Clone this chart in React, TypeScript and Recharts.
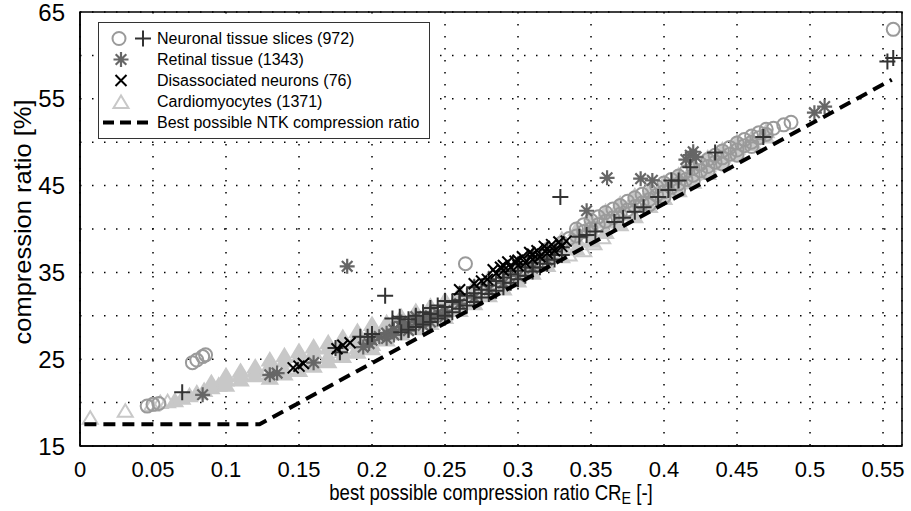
import { ScatterChart, Scatter, XAxis, YAxis, CartesianGrid, Legend, ReferenceArea, Label } from "recharts";

const FONT = "'Liberation Sans', Arial, sans-serif";

// axis ticks
const xTicks = [0, 0.05, 0.1, 0.15, 0.2, 0.25, 0.3, 0.35, 0.4, 0.45, 0.5, 0.55];
const xTickLabels = ["0", "0.05", "0.1", "0.15", "0.2", "0.25", "0.3", "0.35", "0.4", "0.45", "0.5", "0.55"];
const yTicks = [15, 20, 25, 30, 35, 40, 45, 50, 55, 60, 65];
const yTickLabels = ["15", "", "25", "", "35", "", "45", "", "55", "", "65"];

// best possible NTK compression ratio (dashed)
const bestLine: [number, number][] = [
  [0.003, 17.5], [0.123, 17.5], [0.556, 57.2],
];

// cardiomyocytes (1371) - light grey triangles
const cardioSparse: [number, number][] = [
  [0.007, 18.2], [0.031, 19.0], [0.049, 19.7], [0.055, 20.0], [0.06, 20.1],
  [0.335, 37.0], [0.345, 37.5], [0.352, 38.3], [0.358, 39.0], [0.461, 49.8],
];
const cardioBand: [number, number][] = [
  [0.065, 20.2], [0.07, 20.5], [0.075, 20.8], [0.08, 21.1], [0.085, 21.4], [0.09, 21.7], [0.095, 22.0],
  [0.09, 22.3], [0.1, 22.0], [0.1, 22.6], [0.1, 23.1], [0.11, 22.6], [0.11, 23.2], [0.11, 23.6],
  [0.12, 23.1], [0.12, 23.7], [0.12, 24.1],
  [0.13, 22.8], [0.13, 23.3], [0.13, 24.3], [0.13, 24.9], [0.14, 23.3], [0.14, 23.8], [0.14, 24.8], [0.14, 25.4],
  [0.15, 23.7], [0.15, 24.3], [0.15, 25.3], [0.15, 25.9], [0.16, 24.2], [0.16, 24.8], [0.16, 25.8], [0.16, 26.4],
  [0.17, 24.7], [0.17, 25.3], [0.17, 26.3], [0.17, 26.9], [0.18, 25.3], [0.18, 25.9], [0.18, 26.9], [0.18, 27.5],
  [0.19, 25.8], [0.19, 26.3], [0.19, 27.0], [0.19, 27.7], [0.19, 28.2],
  [0.2, 26.2], [0.2, 26.7], [0.2, 27.6], [0.2, 28.5], [0.2, 29.0],
  [0.21, 27.2], [0.21, 28.2], [0.21, 29.2], [0.22, 27.9], [0.22, 28.9], [0.22, 29.9],
  [0.23, 28.5], [0.23, 29.5], [0.23, 30.5], [0.24, 29.1], [0.24, 30.1], [0.24, 31.1],
  [0.25, 29.8], [0.25, 30.8], [0.25, 31.8], [0.26, 30.6], [0.26, 31.6], [0.26, 32.6],
  [0.27, 31.4], [0.27, 32.4], [0.27, 33.4], [0.28, 32.3], [0.28, 33.3], [0.28, 34.3],
  [0.29, 33.1], [0.29, 34.1], [0.29, 35.1], [0.3, 34.0], [0.3, 35.0], [0.3, 36.0],
  [0.31, 34.9], [0.31, 35.9], [0.31, 36.9], [0.32, 35.8], [0.32, 36.8], [0.32, 37.8],
  [0.33, 36.8], [0.33, 37.8], [0.33, 38.8], [0.34, 37.7], [0.34, 38.8], [0.34, 39.9],
  [0.35, 38.6], [0.35, 39.8], [0.35, 41.0], [0.36, 39.6], [0.36, 40.8], [0.36, 42.0],
  [0.37, 40.5], [0.37, 41.7], [0.37, 42.9], [0.38, 41.4], [0.38, 42.6], [0.38, 43.8],
  [0.39, 42.6], [0.39, 43.5], [0.39, 44.4], [0.4, 43.5], [0.4, 44.4], [0.4, 45.3],
  [0.41, 44.4], [0.41, 45.3], [0.41, 46.2], [0.42, 45.4], [0.42, 46.3], [0.42, 47.2],
  [0.43, 46.4], [0.43, 47.3], [0.43, 48.2], [0.44, 47.5], [0.44, 48.3], [0.44, 49.1],
  [0.45, 48.6], [0.45, 49.3], [0.45, 50.0], [0.46, 49.7], [0.46, 50.4], [0.47, 50.6], [0.47, 51.2],
];

// neuronal tissue slices (972) - circles and plus signs
const neuronCircles: [number, number][] = [
  [0.046, 19.6], [0.05, 19.8], [0.054, 19.9],
  [0.077, 24.6], [0.08, 24.9], [0.084, 25.3], [0.086, 25.5],
  [0.264, 36.0], [0.557, 63.0],
  [0.32, 37.6], [0.33, 38.4], [0.335, 38.9], [0.34, 39.2], [0.34, 40.0], [0.345, 39.7], [0.345, 40.5],
  [0.35, 40.0], [0.35, 41.0], [0.355, 40.5], [0.355, 41.4], [0.36, 40.9], [0.36, 41.9],
  [0.365, 41.3], [0.365, 42.3], [0.37, 41.7], [0.37, 42.7], [0.375, 42.2], [0.375, 43.2],
  [0.38, 42.6], [0.38, 43.6], [0.385, 43.0], [0.385, 44.0], [0.39, 42.8], [0.39, 43.4], [0.39, 44.4],
  [0.395, 43.9], [0.395, 44.9], [0.4, 43.7], [0.4, 44.3], [0.4, 45.3], [0.405, 44.8], [0.405, 45.7],
  [0.41, 44.5], [0.41, 45.2], [0.41, 46.1], [0.415, 45.7], [0.415, 46.6],
  [0.42, 45.5], [0.42, 46.2], [0.42, 47.0], [0.425, 46.7], [0.425, 47.5],
  [0.43, 46.5], [0.43, 47.2], [0.43, 48.0], [0.435, 47.7], [0.435, 48.5],
  [0.44, 47.5], [0.44, 48.2], [0.44, 49.0], [0.445, 48.6], [0.445, 49.4],
  [0.45, 48.5], [0.45, 49.1], [0.45, 49.9], [0.455, 49.6], [0.455, 50.3],
  [0.46, 49.5], [0.46, 50.0], [0.46, 50.7], [0.465, 50.5], [0.465, 51.1],
  [0.47, 50.9], [0.47, 51.5], [0.475, 51.6], [0.482, 52.0], [0.487, 52.3],
];
const neuronPlus: [number, number][] = [
  [0.07, 21.2], [0.209, 32.3], [0.329, 43.7], [0.553, 59.3], [0.557, 59.7],
  [0.175, 26.3], [0.178, 25.8], [0.192, 27.6], [0.197, 27.6], [0.2, 27.9],
  [0.214, 29.7], [0.219, 29.9], [0.225, 29.6], [0.23, 30.0], [0.235, 30.4],
  [0.24, 30.2], [0.24, 30.9], [0.245, 31.2], [0.25, 31.0], [0.25, 31.7], [0.255, 31.6],
  [0.26, 31.8], [0.26, 32.5], [0.265, 32.3], [0.27, 32.6], [0.27, 33.3], [0.275, 33.0],
  [0.28, 33.5], [0.28, 34.2], [0.285, 34.0], [0.29, 34.4], [0.29, 35.1], [0.295, 34.8],
  [0.3, 35.2], [0.3, 35.9], [0.305, 35.6], [0.31, 36.1], [0.31, 36.8], [0.315, 36.5],
  [0.32, 37.0], [0.32, 37.6], [0.325, 37.4], [0.33, 37.9],
  [0.22, 28.1], [0.225, 28.4], [0.23, 28.7], [0.235, 29.0], [0.24, 29.3], [0.245, 29.7],
  [0.25, 30.0], [0.255, 30.4], [0.26, 30.8], [0.265, 31.2], [0.27, 31.6], [0.275, 32.1],
  [0.28, 32.5], [0.285, 32.9], [0.29, 33.3], [0.295, 33.8], [0.3, 34.2], [0.305, 34.6],
  [0.31, 35.1], [0.315, 35.6], [0.32, 36.0], [0.325, 36.5], [0.33, 37.0],
  [0.342, 39.1], [0.347, 39.3], [0.353, 39.7], [0.366, 40.8], [0.372, 41.3], [0.38, 42.0],
  [0.386, 42.5], [0.396, 43.7], [0.403, 44.5], [0.405, 45.6], [0.41, 45.6], [0.418, 47.1],
  [0.435, 48.8], [0.468, 50.6],
];

// retinal tissue (1343) - asterisks
const retinal: [number, number][] = [
  [0.084, 20.9], [0.183, 35.7], [0.347, 42.1], [0.361, 45.9], [0.503, 53.4], [0.51, 54.1],
  [0.13, 23.2], [0.135, 23.4], [0.16, 24.6], [0.194, 26.4], [0.198, 26.8],
  [0.2, 27.2], [0.205, 27.6], [0.21, 28.0], [0.21, 27.4], [0.215, 28.4], [0.215, 27.8],
  [0.22, 28.7], [0.22, 29.3], [0.225, 29.0], [0.225, 28.3], [0.23, 29.3], [0.23, 29.9],
  [0.235, 29.6], [0.235, 28.9], [0.24, 30.0], [0.24, 29.3], [0.245, 30.3], [0.25, 30.6],
  [0.25, 29.9], [0.26, 31.4], [0.27, 32.1], [0.28, 33.0], [0.29, 33.8],
  [0.3, 34.6], [0.31, 35.5], [0.32, 36.4],
  [0.384, 45.8], [0.392, 45.6], [0.415, 48.0], [0.418, 48.5], [0.42, 48.9], [0.422, 48.3],
];

// disassociated neurons (76) - crosses
const dissociated: [number, number][] = [
  [0.146, 24.0], [0.15, 24.2], [0.153, 24.5], [0.176, 26.2], [0.18, 26.6], [0.185, 26.9],
  [0.26, 33.0], [0.27, 33.7], [0.275, 34.0], [0.279, 34.2], [0.285, 34.9], [0.29, 35.2],
  [0.29, 35.8], [0.295, 35.6], [0.3, 35.8], [0.3, 36.4], [0.305, 36.1], [0.31, 36.5],
  [0.31, 37.1], [0.315, 36.8], [0.32, 37.2], [0.32, 37.7], [0.325, 37.5], [0.33, 38.0],
  [0.283, 35.3], [0.288, 35.6], [0.293, 36.2], [0.298, 36.3], [0.303, 36.8], [0.308, 37.3],
  [0.313, 37.5], [0.318, 38.0], [0.323, 38.2], [0.328, 38.5], [0.333, 38.6],
];

const toPts = (arr: [number, number][]) => arr.map(([x, y]) => ({ x, y }));

const COL_CIRCLE = "#9a9a9a";
const COL_PLUS = "#333333";
const COL_STAR = "#666666";
const COL_CROSS = "#000000";
const COL_TRI = "#c8c8c8";

const CircleMark = (p: any) => (
  <circle cx={p.cx} cy={p.cy} r={6.5} fill="none" stroke={COL_CIRCLE} strokeWidth={2} />
);
const PlusMark = (p: any) => (
  <path d={`M${p.cx - 8},${p.cy}H${p.cx + 8}M${p.cx},${p.cy - 8}V${p.cy + 8}`} stroke={COL_PLUS} strokeWidth={2} />
);
const StarMark = (p: any) => {
  const r = 7.5, d = 5.3;
  return (
    <path
      d={`M${p.cx - r},${p.cy}H${p.cx + r}M${p.cx},${p.cy - r}V${p.cy + r}M${p.cx - d},${p.cy - d}L${p.cx + d},${p.cy + d}M${p.cx - d},${p.cy + d}L${p.cx + d},${p.cy - d}`}
      stroke={COL_STAR}
      strokeWidth={2.2}
    />
  );
};
const CrossMark = (p: any) => {
  const d = 5.5;
  return (
    <path d={`M${p.cx - d},${p.cy - d}L${p.cx + d},${p.cy + d}M${p.cx - d},${p.cy + d}L${p.cx + d},${p.cy - d}`} stroke={COL_CROSS} strokeWidth={2} />
  );
};
const TriOutline = (p: any) => (
  <path d={`M${p.cx},${p.cy - 7}L${p.cx - 7.5},${p.cy + 5.5}H${p.cx + 7.5}Z`} fill="none" stroke={COL_TRI} strokeWidth={2} />
);
const TriFilled = (p: any) => (
  <path d={`M${p.cx},${p.cy - 7}L${p.cx - 7.5},${p.cy + 5.5}H${p.cx + 7.5}Z`} fill={COL_TRI} stroke={COL_TRI} strokeWidth={2} />
);

const legendRows = [
  { key: "neuro", text: "Neuronal tissue slices (972)" },
  { key: "retina", text: "Retinal tissue (1343)" },
  { key: "dissoc", text: "Disassociated neurons (76)" },
  { key: "cardio", text: "Cardiomyocytes (1371)" },
  { key: "best", text: "Best possible NTK compression ratio" },
];

function legendMarker(key: string) {
  const cy = 10.5;
  if (key === "neuro")
    return (
      <>
        <CircleMark cx={20} cy={cy} />
        <PlusMark cx={44} cy={cy} />
      </>
    );
  if (key === "retina") return <StarMark cx={22} cy={cy} />;
  if (key === "dissoc") return <CrossMark cx={22} cy={cy} />;
  if (key === "cardio") return <TriOutline cx={22} cy={cy + 1} />;
  return <line x1={4} x2={50} y1={cy} y2={cy} stroke="#000" strokeWidth={4} strokeDasharray="11 6" />;
}

const LegendBox = () => (
  <div
    style={{
      border: "1px solid #333",
      background: "#fff",
      width: 332,
      height: 117,
      boxSizing: "border-box",
      paddingTop: 5,
      fontFamily: FONT,
      fontSize: 16,
      color: "#000",
    }}
  >
    {legendRows.map((r) => (
      <div key={r.key} style={{ display: "flex", alignItems: "center", height: 21 }}>
        <svg width={58} height={21} style={{ flex: "none" }}>
          {legendMarker(r.key)}
        </svg>
        <span style={{ whiteSpace: "nowrap" }}>{r.text}</span>
      </div>
    ))}
  </div>
);

const XTitle = (props: any) => {
  const vb = props.viewBox;
  const cx = vb.x + vb.width / 2;
  const y = vb.y + 54;
  return (
    <g transform={`translate(${cx} ${y}) scale(0.845 1)`}>
      <text x={0} y={0} textAnchor="middle" fontFamily={FONT} fontSize={22} fill="#000">
        best possible compression ratio CR
        <tspan dy={4} fontSize={17}>E</tspan>
        <tspan dy={-4}> [-]</tspan>
      </text>
    </g>
  );
};

const YTitle = (props: any) => {
  const vb = props.viewBox;
  const cx = 22;
  const cy = vb.y + vb.height / 2 - 7;
  return (
    <text
      x={cx}
      y={cy}
      transform={`rotate(-90 ${cx} ${cy})`}
      textAnchor="middle"
      dominantBaseline="central"
      fontFamily={FONT}
      fontSize={24}
      textLength={245}
      lengthAdjust="spacingAndGlyphs"
      fill="#000"
    >
      compression ratio [%]
    </text>
  );
};

export default function App() {
  return (
    <div style={{ position: "absolute", left: 0, top: 0, background: "#fff" }}>
      <ScatterChart width={911} height={511} margin={{ top: 12, right: 9, bottom: 15, left: 0 }}>
        <CartesianGrid stroke="#000" strokeDasharray="1.5 10.5" strokeWidth={1.5} />
        <XAxis
          type="number"
          dataKey="x"
          domain={[0, 0.563]}
          ticks={xTicks}
          interval={0}
          height={50}
          tickLine={false}
          tickMargin={9}
          tickFormatter={(v: number) => xTickLabels[xTicks.indexOf(v)] ?? String(v)}
          tick={{ fontSize: 22, fill: "#000", fontFamily: FONT }}
          axisLine={{ stroke: "#000", strokeWidth: 1.5 }}
        >
          <Label content={XTitle} />
        </XAxis>
        <YAxis
          type="number"
          dataKey="y"
          domain={[15, 65]}
          ticks={yTicks}
          interval={0}
          width={80}
          tickLine={false}
          tickMargin={9}
          tickFormatter={(v: number) => yTickLabels[yTicks.indexOf(v)] ?? ""}
          tick={{ fontSize: 24, fill: "#000", fontFamily: FONT }}
          axisLine={{ stroke: "#000", strokeWidth: 1.5 }}
        >
          <Label content={YTitle} />
        </YAxis>
        <ReferenceArea x1={0} x2={0.563} y1={15} y2={65} fill="none" stroke="#000" strokeWidth={1.5} />
        <Scatter data={toPts(cardioBand)} shape={TriFilled} isAnimationActive={false} />
        <Scatter data={toPts(cardioSparse)} shape={TriOutline} isAnimationActive={false} />
        <Scatter data={toPts(neuronCircles)} shape={CircleMark} isAnimationActive={false} />
        <Scatter data={toPts(retinal)} shape={StarMark} isAnimationActive={false} />
        <Scatter data={toPts(neuronPlus)} shape={PlusMark} isAnimationActive={false} />
        <Scatter data={toPts(dissociated)} shape={CrossMark} isAnimationActive={false} />
        <Scatter
          data={toPts(bestLine)}
          line={{ stroke: "#000", strokeWidth: 4, strokeDasharray: "12 7" }}
          shape={() => <g />}
          isAnimationActive={false}
        />
        <Legend
          layout="vertical"
          align="center"
          verticalAlign="middle"
          width={332}
          height={117}
          wrapperStyle={{ left: 98, top: 22, width: 332, height: 117 }}
          content={LegendBox}
        />
      </ScatterChart>
    </div>
  );
}
